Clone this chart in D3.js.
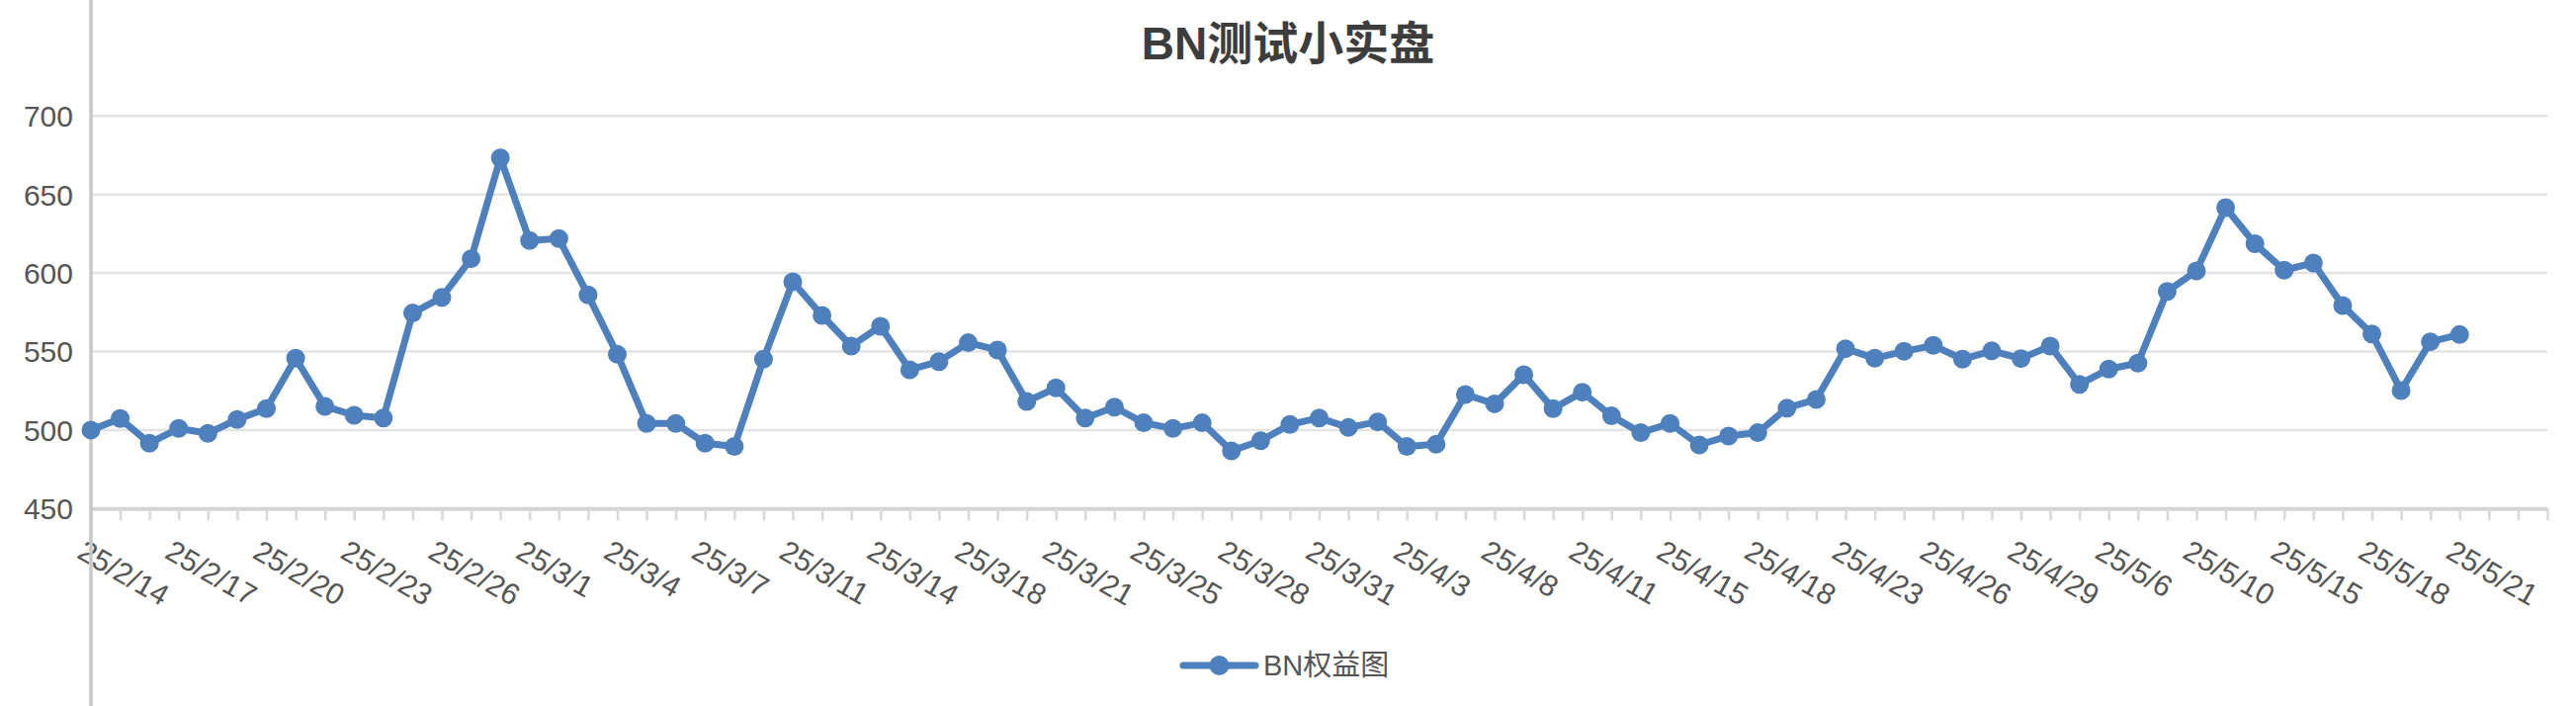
<!DOCTYPE html>
<html>
<head>
<meta charset="utf-8">
<script src="https://cdn.jsdelivr.net/npm/d3@7"></script>
<style>
  body { margin: 0; background: #fff; }
  svg { display: block; }
</style>
</head>
<body>
<svg id="chart" width="2606" height="714"></svg>
<script>
// dates of each point (only every 3rd one is labelled on the axis)
var dates = [
  '25/2/14', '25/2/15', '25/2/16', '25/2/17', '25/2/18', '25/2/19', '25/2/20', '25/2/21', '25/2/22',
  '25/2/23', '25/2/24', '25/2/25', '25/2/26', '25/2/27', '25/2/28', '25/3/1', '25/3/2', '25/3/3',
  '25/3/4', '25/3/5', '25/3/6', '25/3/7', '25/3/8', '25/3/10', '25/3/11', '25/3/12', '25/3/13',
  '25/3/14', '25/3/15', '25/3/17', '25/3/18', '25/3/19', '25/3/20', '25/3/21', '25/3/22', '25/3/24',
  '25/3/25', '25/3/26', '25/3/27', '25/3/28', '25/3/29', '25/3/30', '25/3/31', '25/4/1', '25/4/2',
  '25/4/3', '25/4/5', '25/4/7', '25/4/8', '25/4/9', '25/4/10', '25/4/11', '25/4/12', '25/4/14',
  '25/4/15', '25/4/16', '25/4/17', '25/4/18', '25/4/20', '25/4/22', '25/4/23', '25/4/24', '25/4/25',
  '25/4/26', '25/4/27', '25/4/28', '25/4/29', '25/5/1', '25/5/4', '25/5/6', '25/5/7', '25/5/9',
  '25/5/10', '25/5/12', '25/5/14', '25/5/15', '25/5/16', '25/5/17', '25/5/18', '25/5/19', '25/5/20',
  '25/5/21'
];

// BN权益图 values
var equity = [
  500.0, 507.3, 491.6, 501.0, 497.9, 506.7, 513.6, 545.7, 515.1,
  509.4, 507.7, 574.5, 584.5, 609.1, 673.3, 620.7, 621.9, 586.0,
  548.2, 504.2, 504.2, 491.6, 489.5, 545.1, 594.4, 573.0, 553.5,
  566.1, 538.4, 543.6, 555.6, 551.0, 518.2, 526.8, 507.7, 514.6,
  504.6, 501.0, 504.6, 486.7, 493.2, 503.5, 507.7, 501.6, 505.2,
  489.5, 490.9, 522.6, 516.7, 535.2, 513.6, 524.1, 509.0, 498.3,
  504.2, 490.5, 496.2, 498.3, 514.0, 519.5, 551.8, 545.7, 550.1,
  553.9, 545.1, 550.4, 545.5, 553.5, 529.1, 538.8, 542.6, 588.3,
  601.3, 641.6, 618.6, 601.8, 606.4, 579.3, 561.2, 525.1, 556.2,
  560.8
];

var emptySlots = 3;          // blank categories after the last date
var yTicks = [450, 500, 550, 600, 650, 700];
var chartTitle = 'BN测试小实盘';
var seriesName = 'BN权益图';

var svg = d3.select('#chart'),
    W = +svg.attr('width'),
    H = +svg.attr('height');

var left = 92, right = 2577, yTop = 117.3, yBottom = 514.3;
var blue = '#4e80bd';
var font = '"Liberation Sans", Arial, "Noto Sans CJK SC", sans-serif';

var x = d3.scalePoint()
    .domain(d3.range(dates.length + emptySlots))
    .range([left, right]);

var y = d3.scaleLinear()
    .domain([450, 700])
    .range([yBottom, yTop]);

svg.append('rect').attr('width', W).attr('height', H).attr('fill', '#fff');

// title
svg.append('text')
    .attr('x', W / 2)
    .attr('y', 60)
    .attr('text-anchor', 'middle')
    .style('font-family', '"Liberation Sans", "Noto Sans CJK SC", sans-serif')
    .style('font-weight', 'bold')
    .style('font-size', '46px')
    .style('fill', '#3d3d3d')
    .text(chartTitle);

// gridlines
svg.append('g')
    .selectAll('line')
    .data(yTicks.filter(function(d) { return d > 450; }))
    .enter()
    .append('line')
    .attr('x1', left)
    .attr('x2', right)
    .attr('y1', function(d) { return y(d); })
    .attr('y2', function(d) { return y(d); })
    .style('stroke', '#e3e3e3')
    .style('stroke-width', 2.5);

// y labels
svg.append('g')
    .selectAll('text')
    .data(yTicks)
    .enter()
    .append('text')
    .attr('x', 74)
    .attr('y', function(d) { return y(d); })
    .attr('dy', '0.36em')
    .attr('text-anchor', 'end')
    .style('font-family', font)
    .style('font-size', '30px')
    .style('fill', '#555')
    .text(function(d) { return d; });

// x axis
var xAxis = svg.append('g')
    .attr('transform', 'translate(0,' + yBottom + ')')
    .call(d3.axisBottom(x)
        .tickSize(12)
        .tickSizeOuter(0)
        .tickFormat(function(i) { return (i % 3 === 0 && i < dates.length) ? dates[i] : ''; }));

xAxis.select('.domain')
    .style('stroke', '#d4d4d4')
    .style('stroke-width', 4);

xAxis.selectAll('.tick line')
    .style('stroke', '#d9d9d9')
    .style('stroke-width', 2.5);

xAxis.selectAll('.tick text')
    .attr('x', 0)
    .attr('y', 0)
    .attr('dy', 0)
    .attr('transform', 'translate(-16,49) rotate(30)')
    .attr('text-anchor', 'start')
    .style('font-family', font)
    .style('font-size', '30px')
    .style('fill', '#555');

// left border line
svg.append('line')
    .attr('x1', left).attr('x2', left)
    .attr('y1', 0).attr('y2', H)
    .style('stroke', '#c8c8c8')
    .style('stroke-width', 3.5);

// series line
var line = d3.line()
    .x(function(d, i) { return x(i); })
    .y(function(d) { return y(d); });

svg.append('path')
    .datum(equity)
    .attr('d', line)
    .style('fill', 'none')
    .style('stroke', blue)
    .style('stroke-width', 7)
    .style('stroke-linejoin', 'round');

svg.append('g')
    .selectAll('circle')
    .data(equity)
    .enter()
    .append('circle')
    .attr('cx', function(d, i) { return x(i); })
    .attr('cy', function(d) { return y(d); })
    .attr('r', 9.5)
    .style('fill', blue);

// legend
var lg = svg.append('g').attr('transform', 'translate(1197,673)');
lg.append('line')
    .attr('x1', 0).attr('x2', 73)
    .attr('y1', 0).attr('y2', 0)
    .style('stroke', blue)
    .style('stroke-width', 7)
    .style('stroke-linecap', 'round');
lg.append('circle')
    .attr('cx', 36.5).attr('cy', 0)
    .attr('r', 10)
    .style('fill', blue);
lg.append('text')
    .attr('x', 81)
    .attr('y', 0)
    .attr('dy', '0.36em')
    .style('font-family', font)
    .style('font-size', '29px')
    .style('fill', '#555')
    .text(seriesName);
</script>
</body>
</html>
